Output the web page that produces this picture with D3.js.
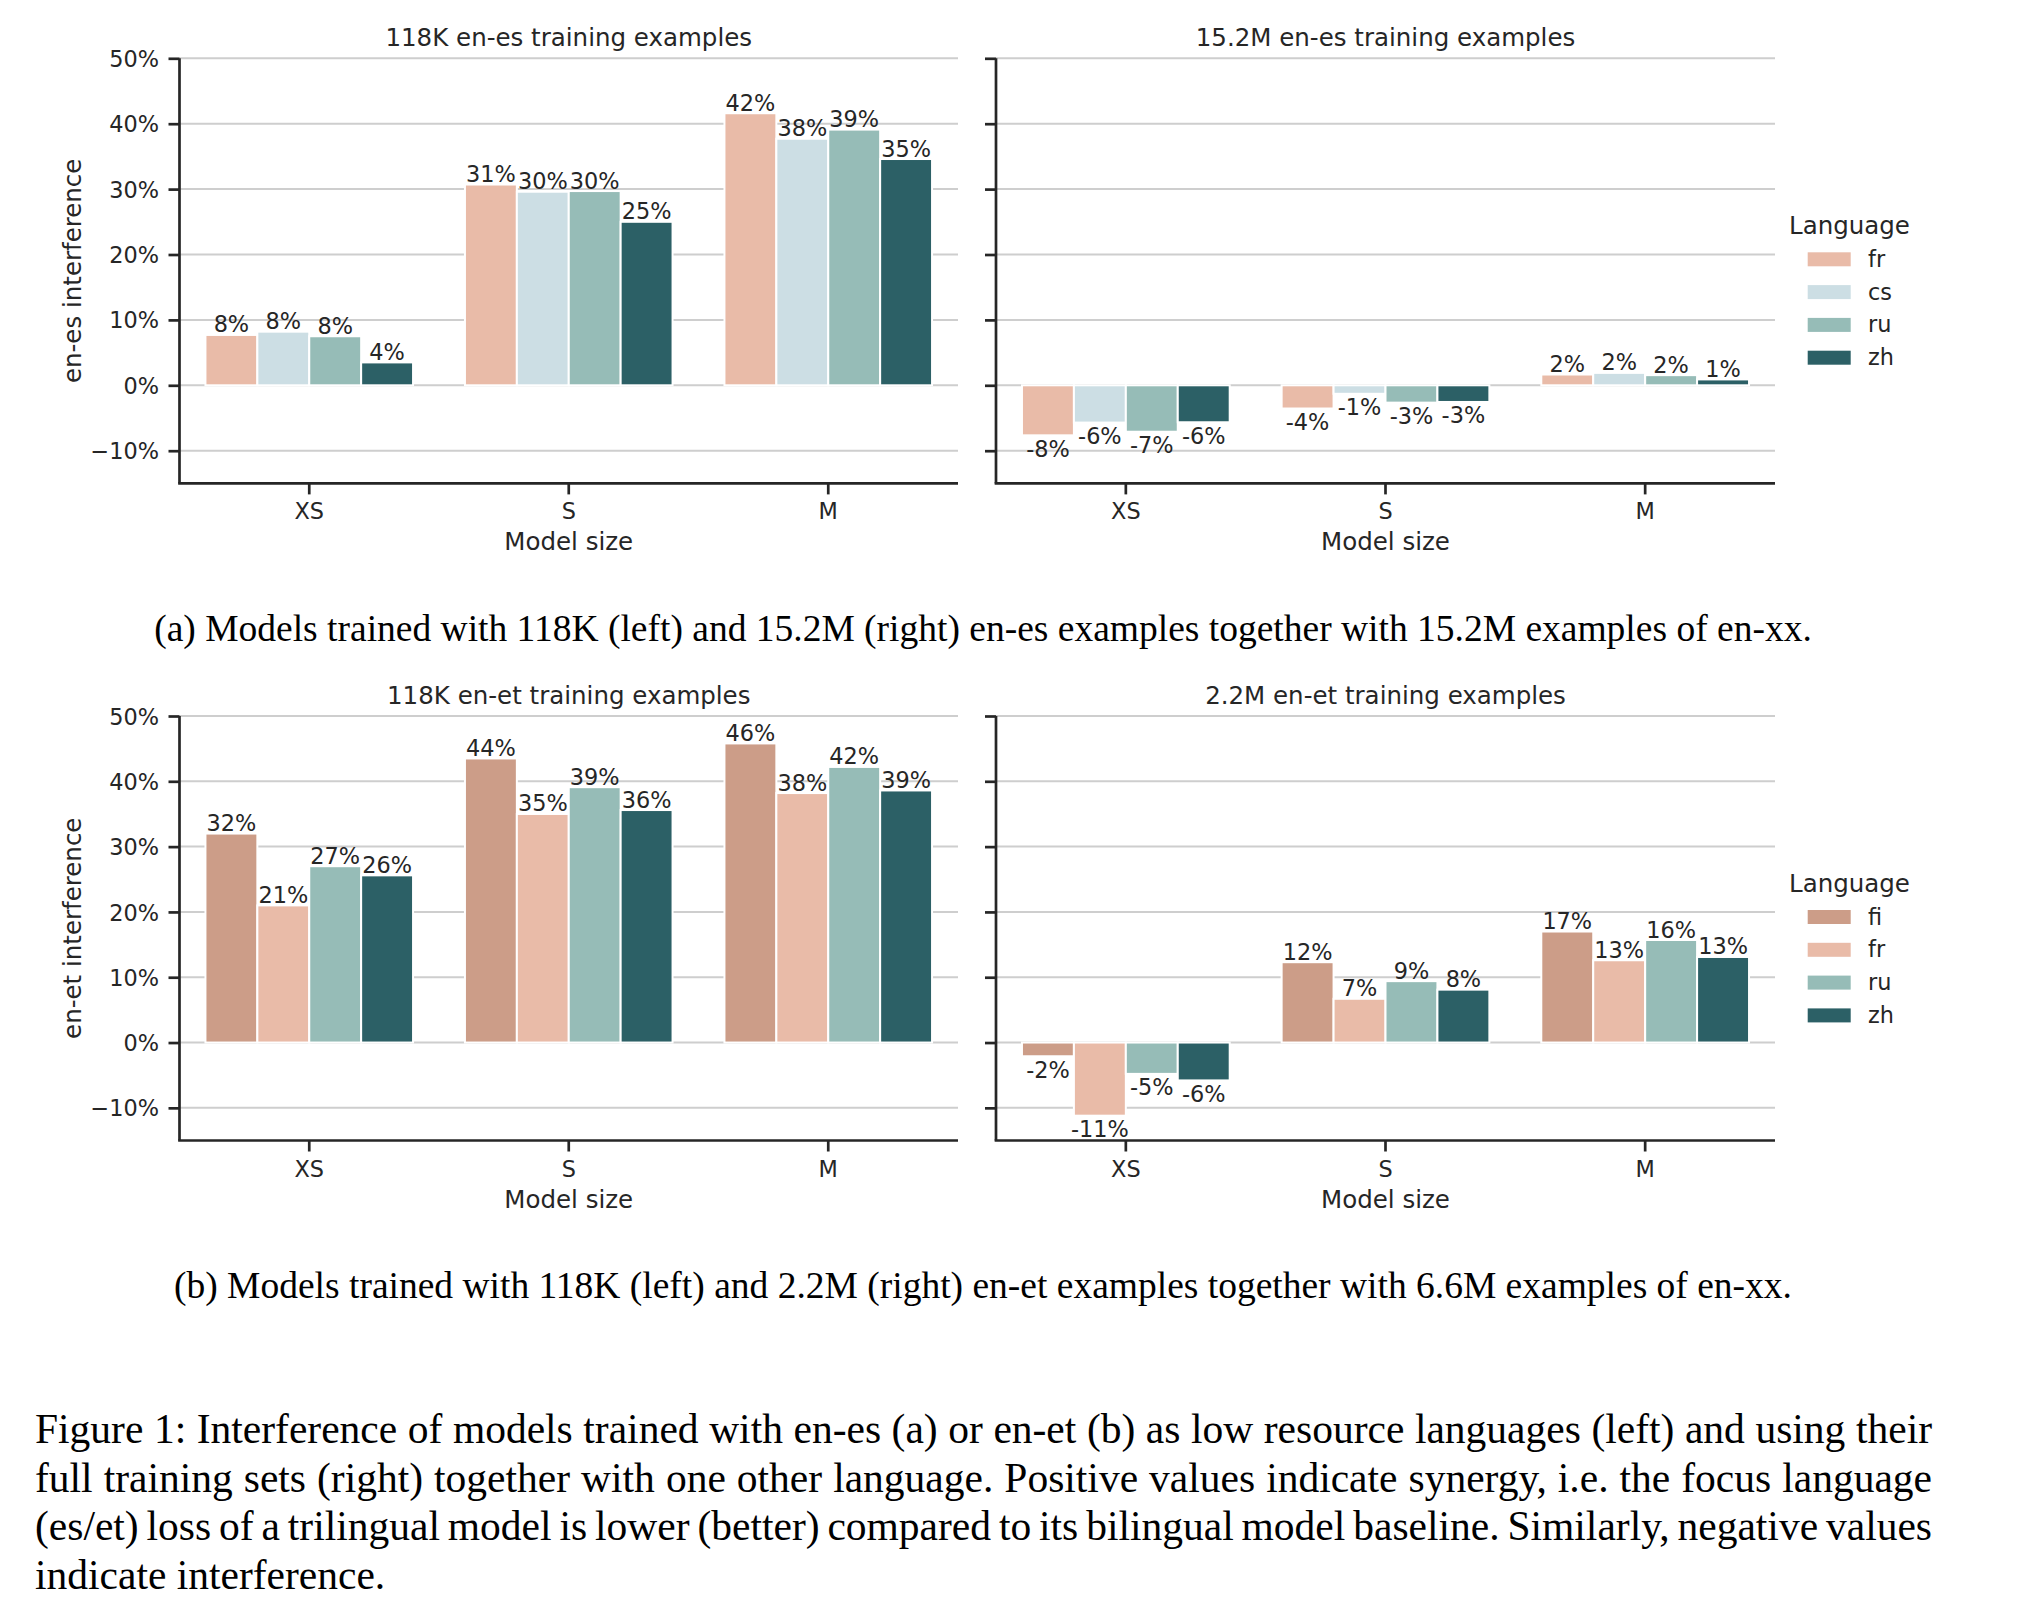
<!DOCTYPE html>
<html>
<head>
<meta charset="utf-8">
<script src="https://cdn.jsdelivr.net/npm/d3@7"></script>
<style>
  html, body { margin: 0; padding: 0; background: #ffffff; }
  svg { display: block; }
</style>
</head>
<body>
<svg id="fig" width="2018" height="1614"></svg>
<script>
// ---------------- DATA ----------------
const categories = ["XS", "S", "M"];
const esLanguages = ["fr", "cs", "ru", "zh"];
const etLanguages = ["fi", "fr", "ru", "zh"];

// rows follow the language order, columns follow categories (XS, S, M), values in %
const es118kValues = [
  [7.7, 30.7, 41.6],   // fr
  [8.2, 29.6, 37.7],   // cs
  [7.5, 29.7, 39.1],   // ru
  [3.5, 25.0, 34.6]    // zh
];
const es15mValues = [
  [-7.65, -3.55, 1.65], // fr
  [-5.7, -1.3, 1.9],    // cs
  [-7.1, -2.65, 1.55],  // ru
  [-5.65, -2.55, 0.9]   // zh
];
const et118kValues = [
  [32.0, 43.5, 45.8],   // fi
  [21.0, 35.0, 38.2],   // fr
  [27.0, 39.1, 42.2],   // ru
  [25.6, 35.6, 38.6]    // zh
];
const et2mValues = [
  [-2.1, 12.3, 17.0],   // fi
  [-11.2, 6.7, 12.6],   // fr
  [-4.8, 9.4, 15.7],    // ru
  [-5.8, 8.1, 13.1]     // zh
];

const yTicks = [-10, 0, 10, 20, 30, 40, 50];
const yTickLabels = ["\u221210%", "0%", "10%", "20%", "30%", "40%", "50%"];
const yDomain = [-15, 50];

const langColors = { fr: "#E9BBA8", cs: "#CCDEE4", ru: "#96BCB7", zh: "#2C6066", fi: "#CC9D88" };

const panelTitles = ["118K en-es training examples", "15.2M en-es training examples",
                     "118K en-et training examples", "2.2M en-et training examples"];
const yAxisLabels = ["en-es interference", "en-et interference"];
const xAxisLabel = "Model size";
const legendTitle = "Language";

const subCaptions = [
  "(a) Models trained with 118K (left) and 15.2M (right) en-es examples together with 15.2M examples of en-xx.",
  "(b) Models trained with 118K (left) and 2.2M (right) en-et examples together with 6.6M examples of en-xx."
];
const captionLines = [
  "Figure 1: Interference of models trained with en-es (a) or en-et (b) as low resource languages (left) and using their",
  "full training sets (right) together with one other language. Positive values indicate synergy, i.e. the focus language",
  "(es/et) loss of a trilingual model is lower (better) compared to its bilingual model baseline. Similarly, negative values",
  "indicate interference."
];

// ---------------- LAYOUT ----------------
const svg = d3.select("#fig");
svg.append("rect").attr("width", 2018).attr("height", 1614).attr("fill", "#ffffff");

const FONT = "'DejaVu Sans', sans-serif";
const SERIF = "'Liberation Serif', 'Times New Roman', serif";
const TXT = "#262626";
const TICK_FS = 22.4, LABEL_FS = 24.5;

const leftX = [179.5, 958], rightX = [996, 1775];
const topY = [483.4, 58.3], botY = [1140.5, 716];

const panels = [
  { xr: leftX,  yr: topY, title: panelTitles[0], values: es118kValues, langs: esLanguages, ylab: yAxisLabels[0], legend: false, tickLabels: true },
  { xr: rightX, yr: topY, title: panelTitles[1], values: es15mValues,  langs: esLanguages, ylab: null, legend: true, tickLabels: false },
  { xr: leftX,  yr: botY, title: panelTitles[2], values: et118kValues, langs: etLanguages, ylab: yAxisLabels[1], legend: false, tickLabels: true },
  { xr: rightX, yr: botY, title: panelTitles[3], values: et2mValues,   langs: etLanguages, ylab: null, legend: true, tickLabels: false }
];

panels.forEach(p => {
  const g = svg.append("g");
  const y = d3.scaleLinear().domain(yDomain).range(p.yr);
  const x = d3.scaleBand().domain(categories).range(p.xr).paddingInner(0.2).paddingOuter(0.1);
  const xi = d3.scaleBand().domain(p.langs).range([0, x.bandwidth()]);

  // grid
  g.append("g").selectAll("line").data(yTicks).join("line")
    .attr("x1", p.xr[0]).attr("x2", p.xr[1])
    .attr("y1", d => y(d)).attr("y2", d => y(d))
    .attr("stroke", "#cecece").attr("stroke-width", 2);

  // bars
  const rows = [];
  p.langs.forEach((lang, li) => {
    categories.forEach((cat, ci) => rows.push({ lang, cat, v: p.values[li][ci] }));
  });
  g.append("g").selectAll("rect").data(rows).join("rect")
    .attr("x", d => x(d.cat) + xi(d.lang))
    .attr("width", xi.bandwidth())
    .attr("y", d => Math.min(y(d.v), y(0)))
    .attr("height", d => Math.abs(y(d.v) - y(0)))
    .attr("fill", d => langColors[d.lang])
    .attr("stroke", "#ffffff").attr("stroke-width", 2);

  // bar labels
  g.append("g").selectAll("text").data(rows).join("text")
    .attr("x", d => x(d.cat) + xi(d.lang) + xi.bandwidth() / 2)
    .attr("y", d => d.v >= 0 ? y(d.v) - 2.5 : y(d.v) + 21.5)
    .attr("text-anchor", "middle")
    .attr("font-family", FONT).attr("font-size", TICK_FS).attr("fill", TXT)
    .text(d => `${Math.round(d.v)}%`);

  // y axis
  const yAxis = d3.axisLeft(y).tickValues(yTicks).tickSize(11).tickPadding(9.5)
    .tickFormat((d, i) => p.tickLabels ? yTickLabels[i] : "");
  const ya = g.append("g").attr("transform", `translate(${p.xr[0]},0)`).call(yAxis);
  ya.select(".domain").attr("d", `M0,${p.yr[0]}V${p.yr[1]}`).attr("stroke", TXT).attr("stroke-width", 2.7);
  ya.selectAll(".tick line").attr("stroke", TXT).attr("stroke-width", 2.7);
  ya.selectAll(".tick text").attr("font-family", FONT).attr("font-size", TICK_FS).attr("fill", TXT).attr("dy", "0.36em");

  // x axis
  const xAxis = d3.axisBottom(x).tickSize(11).tickPadding(9);
  const xa = g.append("g").attr("transform", `translate(0,${p.yr[0]})`).call(xAxis);
  xa.select(".domain").attr("d", `M${p.xr[0] - 1.35},0H${p.xr[1]}`).attr("stroke", TXT).attr("stroke-width", 2.7);
  xa.selectAll(".tick line").attr("stroke", TXT).attr("stroke-width", 2.7);
  xa.selectAll(".tick text").attr("font-family", FONT).attr("font-size", TICK_FS).attr("fill", TXT)
    .attr("dy", null).attr("y", 36);

  // x axis label
  g.append("text").attr("x", (p.xr[0] + p.xr[1]) / 2).attr("y", p.yr[0] + 67)
    .attr("text-anchor", "middle").attr("font-family", FONT).attr("font-size", LABEL_FS).attr("fill", TXT)
    .text(xAxisLabel);

  // title
  g.append("text").attr("x", (p.xr[0] + p.xr[1]) / 2).attr("y", p.yr[1] - 12)
    .attr("text-anchor", "middle").attr("font-family", FONT).attr("font-size", LABEL_FS).attr("fill", TXT)
    .text(p.title);

  // y label
  if (p.ylab) {
    const cy = (p.yr[0] + p.yr[1]) / 2;
    g.append("text").attr("transform", `translate(81,${cy}) rotate(-90)`)
      .attr("text-anchor", "middle").attr("font-family", FONT).attr("font-size", LABEL_FS).attr("fill", TXT)
      .text(p.ylab);
  }

  // legend
  if (p.legend) {
    const top = p.yr[1];
    const lg = svg.append("g");
    lg.append("text").attr("x", 1789).attr("y", top + 176)
      .attr("font-family", FONT).attr("font-size", LABEL_FS).attr("fill", TXT).text(legendTitle);
    p.langs.forEach((lang, i) => {
      const cy = top + 201 + i * 32.8;
      lg.append("rect").attr("x", 1807.7).attr("y", cy - 7).attr("width", 43).attr("height", 14)
        .attr("fill", langColors[lang]);
      lg.append("text").attr("x", 1868).attr("y", cy + 7.5)
        .attr("font-family", FONT).attr("font-size", TICK_FS).attr("fill", TXT).text(lang);
    });
  }
});

// ---------------- CAPTIONS ----------------
const capX = 983;
svg.append("text").attr("x", capX).attr("y", 641).attr("text-anchor", "middle")
  .attr("font-family", SERIF).attr("font-size", 37.5).attr("fill", "#000").text(subCaptions[0]);
svg.append("text").attr("x", capX).attr("y", 1298).attr("text-anchor", "middle")
  .attr("font-family", SERIF).attr("font-size", 37.5).attr("fill", "#000").text(subCaptions[1]);

const capLeft = 35, capRight = 1932, capFS = 41.5, capBase = 1443, capLead = 48.5;
captionLines.forEach((line, li) => {
  const yb = capBase + li * capLead;
  const justify = li < captionLines.length - 1;
  const words = line.split(" ");
  const tg = svg.append("g");
  const nodes = words.map(w => tg.append("text").attr("y", yb)
    .attr("font-family", SERIF).attr("font-size", capFS).attr("fill", "#000").text(w));
  const widths = nodes.map(n => n.node().getComputedTextLength());
  const total = d3.sum(widths);
  const spaceW = justify ? (capRight - capLeft - total) / (words.length - 1) : capFS * 0.25;
  let cx = capLeft;
  nodes.forEach((n, i) => { n.attr("x", cx); cx += widths[i] + spaceW; });
});
</script>
</body>
</html>
